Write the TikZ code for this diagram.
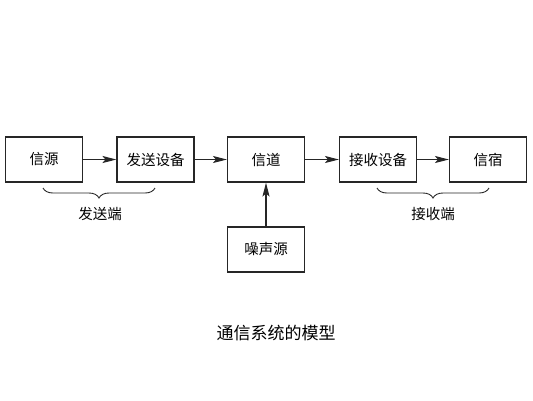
\documentclass[tikz,border=0pt]{standalone}
\usepackage{fontspec}
\newfontfamily\cjk{Noto Sans CJK SC}
\usetikzlibrary{arrows.meta, decorations.pathreplacing}

\begin{document}
\begin{tikzpicture}[x=1pt, y=-1pt,
  blk/.style={draw=black!85, line width=1.1pt, minimum width=77pt,
    minimum height=45pt, inner sep=0pt, font=\cjk\fontsize{14.5}{16}\selectfont},
  arw/.style={-{Stealth[length=14pt, width=7pt, inset=3pt]}, line width=1.1pt, black!85},
  brc/.style={decorate, decoration={brace, mirror, amplitude=10pt},
    line width=0.9pt, black!85},
  lbl/.style={font=\cjk\fontsize{14.5}{16}\selectfont, inner sep=0pt},
]
\useasboundingbox (0,0) rectangle (533,400);

\node[blk] (src) at (44,159.5) {信源\hspace{12pt}};
\node[blk] (tx) at (155.5,159.5) {发送设备};
\node[blk] (chan) at (266,159.5) {信道};
\node[blk] (rx) at (378,159.5) {接收设备};
\node[blk] (sink) at (488,159.5) {信宿\hspace{12pt}};
\node[blk] (noise) at (266,249.5) {噪声源};

\draw[arw] (src) -- (tx);
\draw[arw] (tx) -- (chan);
\draw[arw] (chan) -- (rx);
\draw[arw] (rx) -- (sink);
\draw[arw] (noise) -- (chan);

% braces under the two ends
\coordinate (txl) at (43,188);
\coordinate (txr) at (155,188);
\coordinate (rxl) at (377,188);
\coordinate (rxr) at (489,188);
\draw[brc] (txl) -- (txr);
\draw[brc] (rxl) -- (rxr);
\node[lbl] (txend) at (100,214) {发送端};
\node[lbl] (rxend) at (433,214) {接收端};

\node[font=\cjk\fontsize{17}{19}\selectfont, inner sep=0pt] (title) at (276,333) {通信系统的模型};
\end{tikzpicture}
\end{document}
